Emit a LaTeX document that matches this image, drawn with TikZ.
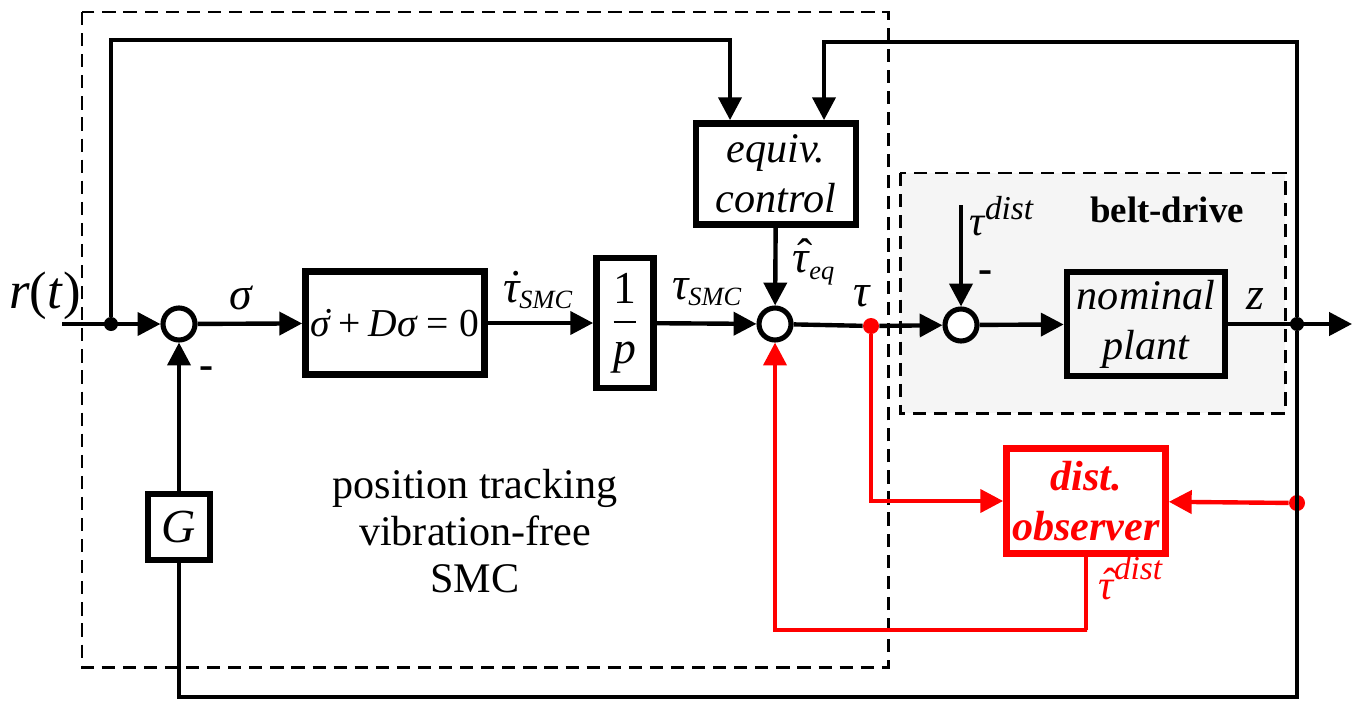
\documentclass[tikz,border=0pt]{standalone}
\usepackage{amsmath}
\usepackage{fontspec}
\setmainfont{Liberation Serif}
\usepackage{tikz}
\usetikzlibrary{positioning, arrows.meta}
\definecolor{obsred}{RGB}{255,0,0}
\newcommand{\gsig}{\textit{σ}}
\newcommand{\gtau}{\textit{τ}}
\newcommand{\dotsig}{\text{\rlap{\kern0.3em\raisebox{0.04em}{˙}}\itshape σ}}
\newcommand{\dottau}{\text{\rlap{\kern0.12em\raisebox{0.02em}{˙}}\itshape τ}}
\newcommand{\hattau}{\text{\rlap{\kern0.1em\raisebox{0.04em}{ˆ}}\itshape τ}}
\newcommand{\lsub}[1]{\text{\fontsize{15}{17}\selectfont\itshape #1}}
\newcommand{\lsup}[1]{\text{\fontsize{19}{21}\selectfont\itshape #1}}

\begin{document}
\begin{tikzpicture}[x=0.02cm, y=-0.02cm, every node/.style={font=\rmfamily\fontsize{26}{30}\selectfont},
      box/.style={draw, line width=3.8pt, align=center, inner sep=0pt,
                  font=\rmfamily\fontsize{24}{28.5}\selectfont\itshape},
      sumnode/.style={draw, circle, line width=2.9pt, fill=white, minimum size=0.64cm, inner sep=0pt},
      dot/.style={circle, fill, inner sep=0pt, minimum size=0.28cm},
      frame/.style={dash pattern=on 7.5pt off 4.5pt, line width=1.7pt},
      arr/.style={-{Triangle[length=13pt, width=13pt]}, line width=2.5pt},
      wire/.style={line width=2.5pt}]
    \useasboundingbox (0,0) rectangle (1354,710);
    % belt-drive frame
    \draw[frame, fill=gray!8] (900,173) rectangle (1285,413);
    % SMC frame
    \draw[frame] (82,12) rectangle (888,667);

    % blocks
    \node[sumnode] (s1) at (179,324) {};
    \node[box, minimum width=3.58cm, minimum height=2.06cm, font=\rmfamily\fontsize{22.5}{28}\selectfont]
      (slide) at (395,323) {$\dotsig\mathbin{\text{+}}\textit{D}\gsig\mathrel{\text{=}}\text{0}$};
    \node[box, minimum width=1.14cm, minimum height=2.6cm, font=\rmfamily\fontsize{26}{28}\selectfont]
      (integ) at (625,323) {$\dfrac{\text{1}}{\textit{p}}$};
    \node[sumnode] (s2) at (775,324) {};
    \node[box, minimum width=3.2cm, minimum height=2.02cm] (equiv) at (776,174) {equiv.\\control};
    \node[sumnode] (s3) at (961,325) {};
    \node[box, minimum width=3.16cm, minimum height=2.08cm] (plant) at (1146,324) {nominal\\plant};
    \node[box, draw=obsred, text=obsred, minimum width=3.18cm, minimum height=2.1cm,
          font=\rmfamily\fontsize{24}{28.5}\selectfont\bfseries\itshape] (obs) at (1086,501) {dist.\\observer};
    \node[box, minimum width=1.24cm, minimum height=1.32cm, font=\rmfamily\fontsize{27}{28}\selectfont\itshape]
      (gain) at (179,527) {G};

    % junctions
    \coordinate (rin) at (62,324);
    \node[dot] (jr) at (111,324) {};
    \node[dot, obsred, minimum size=0.32cm] (jtau) at (871,326) {};
    \node[dot] (jz) at (1297,324) {};
    \node[dot, obsred, minimum size=0.32cm] (jobs) at (1297,503) {};
    \coordinate (zout) at (1352,324);
    \coordinate (topL) at (730,40);
    \coordinate (topR) at (824,42);
    \coordinate (bot) at (1297,697);
    \coordinate (fb) at (1087,630);
    \coordinate (dist) at (961,205);

    % forward path
    \draw[arr] (rin) -- (s1);
    \draw[arr] (s1) -- (slide);
    \draw[arr] (slide) -- (integ);
    \draw[arr] (integ) -- (s2);
    \draw[wire] (s2) -- (jtau);
    \draw[arr] (jtau) -- (s3);
    \draw[arr] (s3) -- (plant);
    \draw[arr] (plant) -- (zout);
    \draw[arr] (equiv) -- (s2);
    \draw[arr] (dist) -- (s3);

    % feedback loops
    \draw[arr] (jr) |- (topL) -- (topL |- equiv.north);
    \draw[arr] (jz) |- (topR) -- (topR |- equiv.north);
    \draw[wire] (jz) -- (bot) -| (gain);
    \draw[arr] (gain) -- (s1);

    % disturbance observer
    \draw[arr, obsred] (jtau) |- (obs);
    \draw[arr, obsred] (jobs) -- (obs);
    \draw[arr, obsred] (obs) |- (fb) -| (s2);

    % labels
    \node[font=\rmfamily\fontsize{30}{32}\selectfont] (lr) at (45,296) {\textit{r}(\textit{t})};
    \node (lsig) at (241,298) {\gsig};
    \node (ldts) at (538,290) {$\dottau_{\lsub{SMC}}$};
    \node (lts) at (707,292) {$\gtau_{\lsub{SMC}}$};
    \node (lteq) at (814,262) {$\hattau_{\lsub{eq}}$};
    \node (ltau) at (862,296) {\gtau};
    \node[font=\rmfamily\fontsize{24}{28}\selectfont] (ltd) at (1002,216) {$\gtau^{\lsup{dist}}$};
    \node (lz) at (1255,299) {\textit{z}};
    \node[font=\rmfamily\fontsize{21}{24}\selectfont\bfseries] (lbelt) at (1167,210) {belt-drive};
    \node[obsred, font=\rmfamily\fontsize{24}{28}\selectfont] (lthd) at (1131,578) {$\hattau^{\lsup{dist}}$};
    \node[font=\rmfamily\fontsize{24}{27}\selectfont\bfseries] (m1) at (207,373) {-};
    \node[font=\rmfamily\fontsize{24}{27}\selectfont\bfseries] (m3) at (986,277) {-};
    \node[align=center, font=\rmfamily\fontsize{24}{26.7}\selectfont] (lsmc) at (475,531)
      {position tracking\\vibration-free\\SMC};
\end{tikzpicture}
\end{document}
